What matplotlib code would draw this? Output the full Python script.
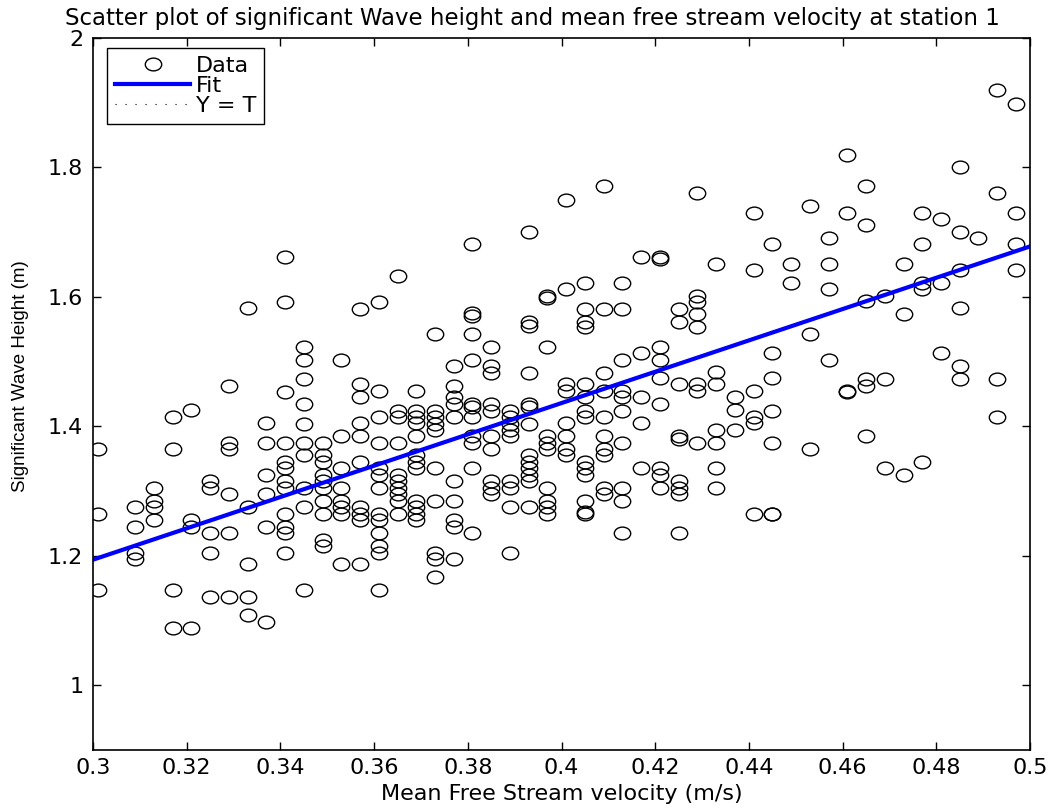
import numpy as np
import matplotlib
matplotlib.use("Agg")
import matplotlib.pyplot as plt
from matplotlib.path import Path

# ---- data ----
velocities = [0.301, 0.305, 0.309, 0.313, 0.317, 0.321, 0.325, 0.329, 0.333, 0.337,
              0.341, 0.345, 0.349, 0.353, 0.357, 0.361, 0.365, 0.369, 0.373, 0.377,
              0.381, 0.385, 0.389, 0.393, 0.397, 0.401, 0.405, 0.409, 0.413, 0.417,
              0.421, 0.425, 0.429, 0.433, 0.437, 0.441, 0.445, 0.449, 0.453, 0.457,
              0.461, 0.465, 0.469, 0.473, 0.477, 0.481, 0.485, 0.489, 0.493, 0.497]

heights = [
    [1.365, 1.265, 1.147],
    [],
    [1.275, 1.245, 1.205, 1.195],
    [1.305, 1.285, 1.275, 1.255],
    [1.415, 1.365, 1.147, 1.088],
    [1.425, 1.255, 1.245, 1.088],
    [1.315, 1.305, 1.235, 1.205, 1.137],
    [1.463, 1.375, 1.365, 1.295, 1.235, 1.137],
    [1.583, 1.275, 1.187, 1.137, 1.108],
    [1.405, 1.375, 1.325, 1.295, 1.245, 1.098],
    [1.661, 1.592, 1.453, 1.375, 1.345, 1.335, 1.315, 1.305, 1.265, 1.245, 1.235, 1.205],
    [1.523, 1.503, 1.473, 1.434, 1.404, 1.375, 1.355, 1.305, 1.275, 1.147],
    [1.375, 1.355, 1.345, 1.325, 1.315, 1.305, 1.285, 1.265, 1.225, 1.215],
    [1.503, 1.385, 1.335, 1.305, 1.285, 1.275, 1.265, 1.187],
    [1.582, 1.465, 1.445, 1.405, 1.385, 1.345, 1.275, 1.265, 1.255, 1.187],
    [1.592, 1.454, 1.414, 1.374, 1.335, 1.325, 1.305, 1.265, 1.255, 1.235, 1.215, 1.205, 1.147],
    [1.632, 1.423, 1.414, 1.374, 1.325, 1.315, 1.305, 1.295, 1.285, 1.265],
    [1.454, 1.423, 1.414, 1.405, 1.385, 1.355, 1.345, 1.335, 1.285, 1.275, 1.265, 1.255],
    [1.543, 1.423, 1.414, 1.404, 1.394, 1.335, 1.285, 1.205, 1.195, 1.167],
    [1.493, 1.463, 1.445, 1.434, 1.414, 1.315, 1.285, 1.255, 1.245, 1.195],
    [1.681, 1.575, 1.570, 1.543, 1.503, 1.434, 1.430, 1.414, 1.385, 1.375, 1.335, 1.235],
    [1.523, 1.493, 1.483, 1.434, 1.423, 1.385, 1.365, 1.315, 1.305, 1.295],
    [1.423, 1.414, 1.404, 1.394, 1.385, 1.315, 1.305, 1.275, 1.205],
    [1.700, 1.562, 1.555, 1.483, 1.434, 1.430, 1.404, 1.355, 1.345, 1.335, 1.325, 1.315, 1.275],
    [1.602, 1.598, 1.523, 1.385, 1.375, 1.365, 1.305, 1.285, 1.275, 1.265],
    [1.750, 1.612, 1.465, 1.454, 1.405, 1.385, 1.365, 1.355],
    [1.621, 1.582, 1.562, 1.553, 1.465, 1.445, 1.423, 1.414, 1.345, 1.335, 1.325, 1.285, 1.265, 1.268],
    [1.771, 1.582, 1.483, 1.454, 1.414, 1.385, 1.365, 1.355, 1.305, 1.295],
    [1.621, 1.582, 1.503, 1.454, 1.445, 1.423, 1.375, 1.305, 1.285, 1.235],
    [1.661, 1.513, 1.445, 1.405, 1.335],
    [1.661, 1.658, 1.523, 1.503, 1.475, 1.434, 1.335, 1.325, 1.305],
    [1.582, 1.562, 1.465, 1.385, 1.380, 1.315, 1.305, 1.295, 1.235],
    [1.760, 1.602, 1.592, 1.573, 1.553, 1.465, 1.455, 1.375],
    [1.651, 1.484, 1.465, 1.395, 1.375, 1.335, 1.305],
    [1.445, 1.425, 1.395],
    [1.730, 1.642, 1.455, 1.415, 1.405, 1.265],
    [1.681, 1.513, 1.475, 1.423, 1.375, 1.265, 1.265],
    [1.651, 1.622],
    [1.740, 1.543, 1.365],
    [1.691, 1.651, 1.612, 1.503],
    [1.820, 1.730, 1.455, 1.453],
    [1.771, 1.711, 1.593, 1.473, 1.463, 1.385],
    [1.602, 1.473, 1.335],
    [1.651, 1.573, 1.325],
    [1.730, 1.682, 1.622, 1.612, 1.345],
    [1.721, 1.622, 1.513],
    [1.800, 1.701, 1.642, 1.583, 1.493, 1.473],
    [1.691],
    [1.920, 1.760, 1.473, 1.414],
    [1.898, 1.730, 1.681, 1.642],
]

fit_x = [0.3, 0.5]
fit_y = [1.194, 1.678]
identity_x = [0.3, 0.5]

xticks = [0.3, 0.32, 0.34, 0.36, 0.38, 0.4, 0.42, 0.44, 0.46, 0.48, 0.5]
xticklabels = ["0.3", "0.32", "0.34", "0.36", "0.38", "0.4", "0.42", "0.44", "0.46", "0.48", "0.5"]
yticks = [1.0, 1.2, 1.4, 1.6, 1.8, 2.0]
yticklabels = ["1", "1.2", "1.4", "1.6", "1.8", "2"]

# ---- build ----
xs = []
ys = []
for v, hs in zip(velocities, heights):
    for h in hs:
        xs.append(v)
        ys.append(h)

# ellipse marker (reference circles are slightly wider than tall)
circ = Path.unit_circle()
ell = Path(circ.vertices * np.array([1.0, 0.78]), circ.codes)

fig = plt.figure(figsize=(10.56, 8.08), dpi=100)
ax = fig.add_axes([93 / 1056, 58 / 808, 937 / 1056, 712 / 808])

ax.plot(xs, ys, linestyle="none", marker=ell, markersize=11.8,
        markerfacecolor="none", markeredgecolor="black", markeredgewidth=1.0,
        label="Data")
ax.plot(fit_x, fit_y, color=(0, 0, 1), linewidth=3.0, label="Fit")
ax.plot(identity_x, identity_x, color="black", linewidth=0.8,
        linestyle=(0, (1, 8)), label="Y = T")

ax.set_xlim(0.3, 0.5)
ax.set_ylim(0.9, 2.0)
ax.set_xticks(xticks)
ax.set_xticklabels(xticklabels)
ax.set_yticks(yticks)
ax.set_yticklabels(yticklabels)

for lab in ax.get_xticklabels() + ax.get_yticklabels():
    lab.set_fontfamily("DejaVu Sans")
    lab.set_fontsize(16)

ax.tick_params(direction="in", length=6, width=1.0, top=True, right=True,
               colors="black")
ax.tick_params(axis="x", pad=6)
ax.tick_params(axis="y", pad=7)
for s in ax.spines.values():
    s.set_linewidth(1.2)

ax.set_xlabel("Mean Free Stream velocity (m/s)", fontfamily="DejaVu Sans",
              fontsize=16, labelpad=4)
ax.set_ylabel("Significant Wave Height (m)", fontfamily="Liberation Sans",
              fontsize=13.5)
ax.yaxis.set_label_coords(-64 / 937, (750 - 376) / 712)
ax.set_title("Scatter plot of significant Wave height and mean free stream velocity at station 1",
             fontfamily="DejaVu Sans", fontsize=16.5, pad=9, x=(532 - 93) / 937)

leg = ax.legend(loc="upper left", bbox_to_anchor=(14 / 937, 1 - 10 / 712),
                borderaxespad=0, fancybox=False, framealpha=1,
                edgecolor="black", prop=dict(family="DejaVu Sans", size=16),
                handlelength=3.4, handletextpad=0.25, labelspacing=0.0,
                borderpad=0.35)
leg.get_frame().set_linewidth(1.0)

fig.savefig("out.png", dpi=100)
